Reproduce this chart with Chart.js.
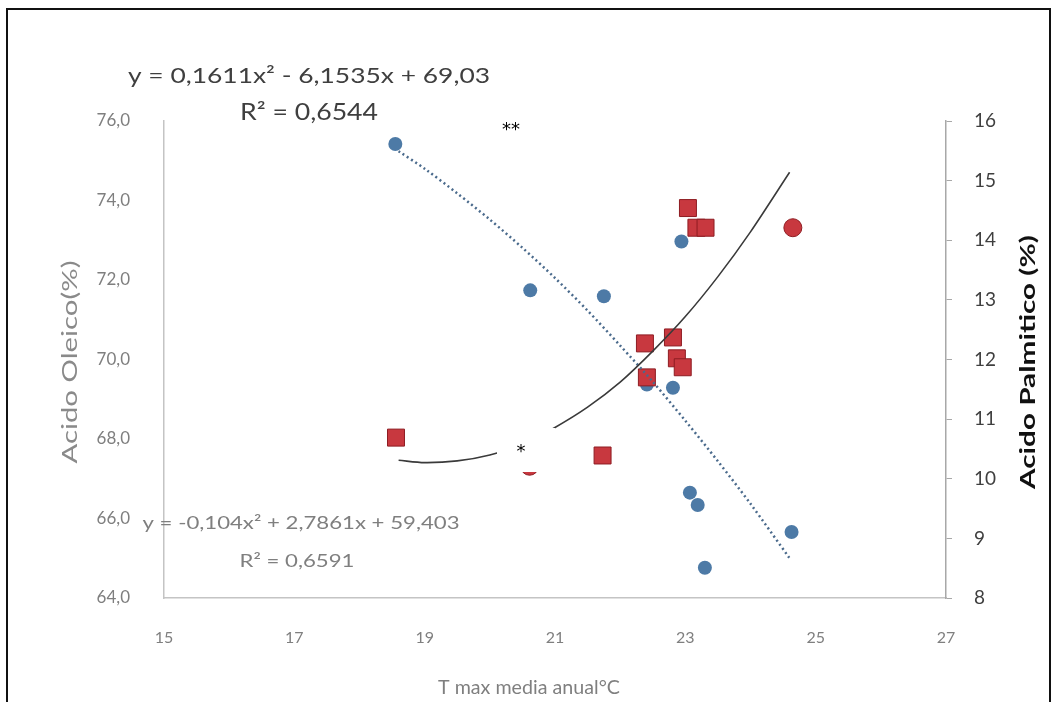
<!DOCTYPE html>
<html>
<head>
<meta charset="utf-8">
<script src="https://cdn.jsdelivr.net/npm/chart.js@4.4.0/dist/chart.umd.min.js"></script>
<style>
html,body{margin:0;padding:0;background:#fff;}
#wrap{width:1057px;height:702px;position:relative;}
</style>
</head>
<body>
<div id="wrap"><canvas id="c" width="1057" height="702"></canvas></div>
<script>
// ---- Data ----
// Ácido oleico (left axis), blue circles
const oleicTemp  = [18.55, 20.62, 21.75, 22.94, 22.41, 22.81, 23.07, 23.19, 23.30, 24.63];
const oleicValue = [75.42, 71.74, 71.59, 72.97, 69.37, 69.29, 66.65, 66.34, 64.76, 65.66];

// Ácido palmítico (right axis), red markers
const palmTemp   = [18.56, 20.61, 21.73, 22.38, 22.41, 22.81, 22.87, 22.96, 23.04, 23.17, 23.31, 24.65];
const palmValue  = [10.69, 10.21, 10.39, 12.27, 11.70, 12.37, 12.02, 11.87, 14.54, 14.21, 14.21, 14.21];
const palmShape  = ['rect','circle','rect','rect','rect','rect','rect','rect','rect','rect','rect','circle'];

// Trend curves
const trendTemp  = [18.6, 19.0, 19.5, 20.0, 20.5, 21.0, 21.5, 22.0, 22.5, 23.0, 23.5, 24.0, 24.6];
const palmTrend  = [10.31, 10.27, 10.30, 10.40, 10.58, 10.86, 11.20, 11.62, 12.14, 12.72, 13.39, 14.14, 15.14];
const oleicTrend = [75.24, 74.80, 74.18, 73.52, 72.81, 72.05, 71.23, 70.35, 69.44, 68.46, 67.44, 66.37, 65.00];

// Tick settings
const xTicks = {min: 15, max: 27, step: 2};
const leftTicks = {min: 64, max: 76, step: 2};
const rightTicks = {min: 8, max: 16, step: 1};

const eqPalm = ['y = 0,1611x² - 6,1535x + 69,03', 'R² = 0,6544'];
const eqOleic = ['y = -0,104x² + 2,7861x + 59,403', 'R² = 0,6591'];

const pts = (xs, ys) => xs.map((x, i) => ({x: x, y: ys[i]}));

const FONT = 'Lato, "Open Sans", sans-serif';

// draw text starting at x (left) stretched to a given width
function fitText(ctx, text, x, y, width, font, color, rot) {
  ctx.save();
  ctx.font = font;
  ctx.fillStyle = color;
  ctx.textBaseline = 'middle';
  ctx.textAlign = 'center';
  const w = ctx.measureText(text).width;
  const sx = width / w;
  ctx.translate(x, y);
  if (rot) ctx.rotate(rot);
  ctx.scale(sx, 1);
  ctx.fillText(text, 0, 0);
  ctx.restore();
}

const overlay = {
  id: 'overlay',
  afterDraw(chart) {
    const ctx = chart.ctx;
    // equations (palmitic, top) — centers & widths
    fitText(ctx, eqPalm[0], 309, 76, 362, '22px ' + FONT, '#3f3f3f');
    fitText(ctx, eqPalm[1], 309, 113, 138, '23px ' + FONT, '#3f3f3f');
    // equations (oleic, bottom)
    fitText(ctx, eqOleic[0], 301, 523, 317, '18px ' + FONT, '#7f7f7f');
    fitText(ctx, eqOleic[1], 297, 561, 115, '18px ' + FONT, '#7f7f7f');

    // axis titles
    fitText(ctx, 'Acido Oleico(%)', 70, 362, 203, '21px ' + FONT, '#8a8a8a', -Math.PI / 2);
    fitText(ctx, 'Acido Palmitico (%)', 1029, 362, 254, 'bold 20px ' + FONT, '#111111', -Math.PI / 2);
    fitText(ctx, 'T max media anual°C', 529, 688, 182, '19px ' + FONT, '#7f7f7f');

    ctx.save();
    // significance marks
    ctx.fillStyle = '#ffffff';
    ctx.fillRect(497, 428, 58, 44);
    ctx.fillStyle = '#000000';
    ctx.font = '18px "DejaVu Sans", sans-serif';
    ctx.textAlign = 'center';
    ctx.textBaseline = 'middle';
    ctx.fillText('*', 521, 452);
    ctx.fillText('**', 511, 130);

    // outer frame
    ctx.strokeStyle = '#111111';
    ctx.lineWidth = 2;
    ctx.beginPath();
    ctx.moveTo(7, 710);
    ctx.lineTo(7, 9);
    ctx.lineTo(1050, 9);
    ctx.lineTo(1050, 710);
    ctx.stroke();
    ctx.restore();
  }
};

new Chart(document.getElementById('c'), {
  type: 'scatter',
  data: {
    datasets: [
      {
        label: 'Tendencia palmítico',
        type: 'line',
        data: pts(trendTemp, palmTrend),
        yAxisID: 'yR',
        borderColor: '#3a3a3a',
        borderWidth: 1.6,
        pointRadius: 0,
        tension: 0.3,
        fill: false,
        order: 0
      },
      {
        label: 'Tendencia oleico',
        type: 'line',
        data: pts(trendTemp, oleicTrend),
        yAxisID: 'yL',
        borderColor: '#4a6a8c',
        borderWidth: 2.5,
        borderDash: [2, 3],
        pointRadius: 0,
        tension: 0.3,
        fill: false,
        order: 0
      },
      {
        label: 'Acido Palmitico',
        data: pts(palmTemp, palmValue),
        yAxisID: 'yR',
        pointStyle: palmShape,
        pointRadius: palmShape.map(s => s === 'rect' ? 12 : 9),
        backgroundColor: '#c8383f',
        borderColor: '#8e1c22',
        borderWidth: 1,
        order: 1
      },
      {
        label: 'Acido Oleico',
        data: pts(oleicTemp, oleicValue),
        yAxisID: 'yL',
        pointStyle: 'circle',
        pointRadius: 7,
        backgroundColor: '#4d7aa6',
        borderColor: '#4d7aa6',
        borderWidth: 0,
        order: 2
      }
    ]
  },
  options: {
    responsive: false,
    animation: false,
    devicePixelRatio: 1,
    layout: {padding: {top: 121, left: 0, right: 0, bottom: 0}},
    plugins: {legend: {display: false}, tooltip: {enabled: false}},
    scales: {
      x: {
        type: 'linear',
        min: xTicks.min, max: xTicks.max,
        ticks: {stepSize: xTicks.step, color: '#7f7f7f', font: {family: FONT, size: 16}, padding: 22},
        grid: {display: false},
        border: {display: true, color: '#c4c4c4', width: 1.5},
        afterFit: s => { s.height = 104; }
      },
      yL: {
        type: 'linear',
        position: 'left',
        min: leftTicks.min, max: leftTicks.max,
        ticks: {stepSize: leftTicks.step, color: '#7f7f7f', font: {family: FONT, size: 17}, padding: 26,
                callback: v => v.toFixed(1).replace('.', ',')},
        grid: {display: false},
        border: {display: true, color: '#c4c4c4', width: 1.5},
        afterFit: s => { s.width = 164; }
      },
      yR: {
        type: 'linear',
        position: 'right',
        min: rightTicks.min, max: rightTicks.max,
        ticks: {stepSize: rightTicks.step, color: '#3f3f3f', font: {family: FONT, size: 19}, padding: 22},
        grid: {display: true, drawOnChartArea: false, drawTicks: true, tickLength: 6, color: '#a8a8a8'},
        border: {display: true, color: '#a8a8a8', width: 1.5},
        afterFit: s => { s.width = 111; }
      }
    }
  },
  plugins: [overlay]
});
</script>
</body>
</html>
